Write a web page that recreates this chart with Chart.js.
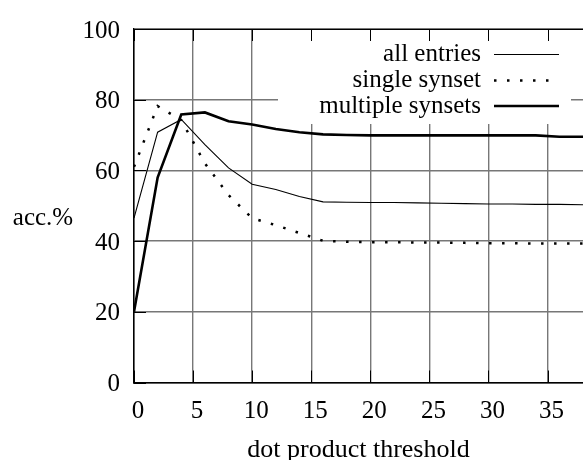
<!DOCTYPE html>
<html>
<head>
<meta charset="utf-8">
<script src="https://cdn.jsdelivr.net/npm/chart.js@4"></script>
<style>
  body { margin: 0; background: #fff; }
  canvas { display: block; }
</style>
</head>
<body>
<canvas id="accChart" width="583" height="460"></canvas>
<script>
// dot product threshold (x) and accuracy in % for each run
let thresholds = [0, 2, 4, 6, 8, 10, 12, 14, 16, 18, 20, 22, 24, 26, 28, 30, 32, 34, 36, 38];
let allEntries = [46.5, 70.8, 74.4, 67.3, 60.7, 56.1, 54.6, 52.6, 51.1, 51.0, 50.9, 50.9, 50.8, 50.7, 50.6, 50.5, 50.5, 50.4, 50.4, 50.3];
let singleSynset = [61.0, 78.2, 74.2, 62.0, 53.0, 46.5, 44.5, 42.3, 40.1, 39.8, 39.7, 39.7, 39.6, 39.6, 39.5, 39.4, 39.4, 39.3, 39.3, 39.3];
let multipleSynsets = [20.0, 58.0, 75.8, 76.4, 73.9, 73.0, 71.7, 70.8, 70.2, 70.0, 69.9, 69.9, 69.9, 69.9, 69.9, 69.9, 69.9, 69.9, 69.5, 69.5];

let seriesNames = ['all entries', 'single synset', 'multiple synsets'];
let xTitle = 'dot product threshold';
let yTitle = 'acc.%';

const FAMILY = '"Liberation Serif", "Times New Roman", Times, "DejaVu Serif", serif';
const FONT = '25px ' + FAMILY;

function toPoints(ys) {
  return ys.map((y, i) => ({ x: thresholds[i], y: y }));
}

// gnuplot-like bits: opaque key box, inward ticks, top border, horizontal y label
const paperPlugin = {
  id: 'paper',
  beforeDatasetsDraw(chart) {
    const ctx = chart.ctx;
    const a = chart.chartArea;
    ctx.save();
    ctx.fillStyle = '#fff';
    ctx.fillRect(a.right - 305, a.top + 1, 293, 94);

    ctx.font = FONT;
    ctx.fillStyle = '#000';
    ctx.textAlign = 'right';
    ctx.textBaseline = 'middle';
    const rows = [a.top + 25.5, a.top + 51.5, a.top + 77];
    const x0 = a.right - 89, x1 = a.right - 24;
    seriesNames.forEach((name, i) => {
      ctx.fillText(name, a.right - 102, rows[i]);
      const ds = chart.data.datasets[i];
      ctx.beginPath();
      ctx.lineWidth = ds.borderWidth;
      ctx.setLineDash(ds.borderDash || []);
      ctx.strokeStyle = '#000';
      ctx.moveTo(x0, rows[i]);
      ctx.lineTo(x1, rows[i]);
      ctx.stroke();
    });
    ctx.restore();
  },
  afterDraw(chart) {
    const ctx = chart.ctx;
    const a = chart.chartArea;
    const xs = chart.scales.x, ys = chart.scales.y;
    ctx.save();
    ctx.strokeStyle = '#000';
    ctx.lineWidth = 1;
    ctx.beginPath();
    ctx.moveTo(a.left, a.top + 0.5);
    ctx.lineTo(a.right, a.top + 0.5);
    xs.ticks.forEach(t => {
      const px = Math.round(xs.getPixelForValue(t.value)) + 0.5;
      ctx.moveTo(px, a.bottom);
      ctx.lineTo(px, a.bottom - 12);
      ctx.moveTo(px, a.top);
      ctx.lineTo(px, a.top + 12);
    });
    ys.ticks.forEach(t => {
      const py = Math.round(ys.getPixelForValue(t.value)) + 0.5;
      ctx.moveTo(a.left, py);
      ctx.lineTo(a.left + 12, py);
    });
    ctx.stroke();

    ctx.font = FONT;
    ctx.fillStyle = '#000';
    ctx.textAlign = 'center';
    ctx.textBaseline = 'alphabetic';
    ctx.fillText(yTitle, 43, ys.getPixelForValue(44.6));
    ctx.restore();
  }
};

const ctx = document.getElementById('accChart').getContext('2d');
new Chart(ctx, {
  type: 'line',
  data: {
    datasets: [
      {
        label: seriesNames[0],
        data: toPoints(allEntries),
        borderColor: '#000',
        borderWidth: 1.1
      },
      {
        label: seriesNames[1],
        data: toPoints(singleSynset),
        borderColor: '#000',
        borderWidth: 2.5,
        borderDash: [2.5, 10.5]
      },
      {
        label: seriesNames[2],
        data: toPoints(multipleSynsets),
        borderColor: '#000',
        borderWidth: 2.6
      }
    ]
  },
  options: {
    responsive: false,
    animation: false,
    devicePixelRatio: 1,
    layout: { padding: { top: 22, right: 0, left: 0, bottom: 0 } },
    elements: {
      point: { radius: 0 },
      line: { tension: 0, fill: false }
    },
    plugins: {
      legend: { display: false },
      tooltip: { enabled: false }
    },
    scales: {
      x: {
        type: 'linear',
        min: 0,
        max: 38,
        afterFit: s => { s.height = 77.5; },
        ticks: {
          stepSize: 5,
          includeBounds: false,
          color: '#000',
          font: { family: FAMILY, size: 25 },
          padding: 14,
          labelOffset: 4,
          maxRotation: 0
        },
        grid: { color: '#777', lineWidth: 1.4, drawTicks: false },
        border: { color: '#000', width: 1.5 },
        title: {
          display: true,
          text: xTitle,
          color: '#000',
          font: { family: FAMILY, size: 26 },
          padding: { top: 8, bottom: -6 }
        }
      },
      y: {
        min: 0,
        max: 100,
        afterFit: s => { s.width = 134; },
        ticks: {
          stepSize: 20,
          color: '#000',
          font: { family: FAMILY, size: 25 },
          padding: 14,
          labelOffset: 2
        },
        grid: { color: '#777', lineWidth: 1.4, drawTicks: false },
        border: { color: '#000', width: 1.5 }
      }
    }
  },
  plugins: [paperPlugin]
});
</script>
</body>
</html>
